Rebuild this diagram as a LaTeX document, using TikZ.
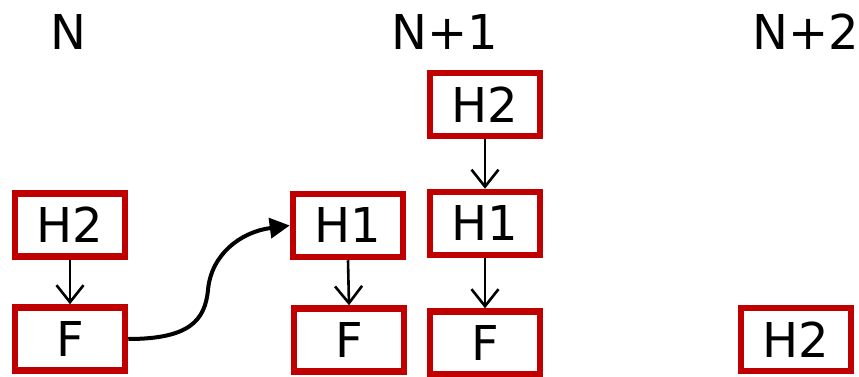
\documentclass[tikz,border=0pt]{standalone}
\usepackage{fontspec}
\setmainfont{DejaVu Sans}
\usetikzlibrary{arrows.meta}
\definecolor{boxred}{RGB}{192,0,0}
\begin{document}
\begin{tikzpicture}[x=1pt,y=-1pt,
  frame/.style={draw=boxred,line width=6.5pt,fill=white,rectangle,
    minimum width=110pt,minimum height=63pt,inner sep=0pt,
    font=\fontsize{48}{58}\selectfont},
  heading/.style={anchor=base,font=\fontsize{48}{58}\selectfont},
  link/.style={draw=black,line width=2.6pt,-{Straight Barb[length=17pt,width=27pt,line width=2.6pt]}},
  jump/.style={draw=black,line width=4pt,-{Triangle[length=20pt,width=20pt]}}]
\useasboundingbox (0,0) rectangle (859,377);

% column headings
\node[heading] (tN)  at (68,50)  {N};
\node[heading] (tN1) at (445,50) {N+1};
\node[heading] (tN2) at (806,50) {N+2};

% column N
\node[frame] (a2) at (70,225)   {H2};
\node[frame] (af) at (70,339)   {F};

% column N+1, left stack
\node[frame] (b1) at (348,225.5) {H1};
\node[frame] (bf) at (349,340)   {F};

% column N+1, right stack
\node[frame] (c2) at (485,104.5) {H2};
\node[frame] (c1) at (485,223.5) {H1};
\node[frame] (cf) at (485,343)   {F};

% column N+2
\node[frame] (d2) at (796,339.5) {H2};

% vertical links
\draw[link] (a2.south) -- (af.north);
\draw[link] (b1.south) -- (bf.north);
\draw[link] (c2.south) -- (c1.north);
\draw[link] (c1.south) -- (cf.north);

% curved link from F to H1
\draw[jump] (af.east) .. controls (190,339) and (205,320) .. (208,290)
  .. controls (211,255) and (240,232) .. (b1.west);
\end{tikzpicture}
\end{document}
